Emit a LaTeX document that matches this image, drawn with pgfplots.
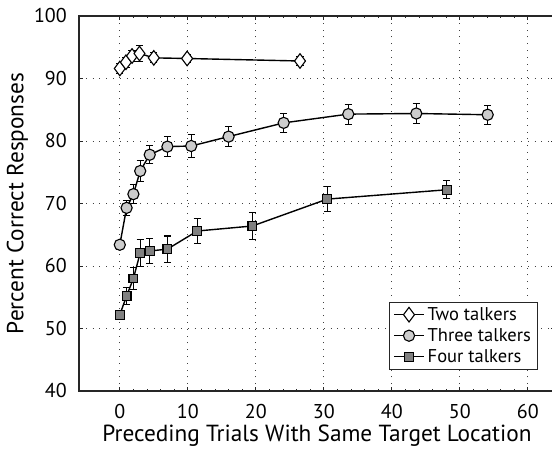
\documentclass[border=0pt]{standalone}
\usepackage{pgfplots}
\pgfplotsset{compat=1.18}
\usepackage{pgfplotstable}
\usepackage{fontspec}
\setmainfont{PT Sans}

% columns: mean preceding trials, percent correct, error half-width
\pgfplotstableread{
x     y     e
0     91.6  0.8
0.9   92.6  0.8
1.8   93.6  0.9
2.9   94.0  1.3
5.0   93.3  0.8
9.9   93.2  0.7
26.5  92.8  0.7
}\twotalkers

\pgfplotstableread{
x     y     e
0     63.4  0.7
1.0   69.3  1.2
2.0   71.5  1.5
3.0   75.2  1.7
4.4   77.8  1.45
7.0   79.1  1.6
10.5  79.2  1.8
16.0  80.7  1.6
24.1  82.9  1.55
33.6  84.3  1.6
43.6  84.4  1.65
54.1  84.2  1.55
}\threetalkers

\pgfplotstableread{
x     y     e
0     52.2  0.5
1.0   55.2  1.3
2.0   58.0  1.8
3.0   62.1  2.2
4.4   62.4  2.0
7.0   62.7  2.1
11.4  65.6  2.0
19.5  66.4  2.1
30.5  70.7  1.95
48.1  72.2  1.45
}\fourtalkers

\begin{document}
\begin{tikzpicture}
\begin{axis}[
  at={(0,0)}, anchor=south west,
  scale only axis,
  width=476pt, height=375pt,
  xmin=-6, xmax=64,
  ymin=40, ymax=100,
  xtick={0,10,...,60},
  ytick={40,50,...,100},
  minor x tick num=4,
  tick align=inside,
  major tick length=4pt,
  minor tick length=2pt,
  axis line style={black!85, line width=1.1pt},
  every tick/.style={black!85, line width=0.9pt},
  grid=major,
  major grid style={black!75, line width=0.9pt, dash pattern=on 0.9pt off 5.9pt},
  /pgf/number format/assume math mode=true,
  tick label style={font=\fontsize{20}{23}\selectfont, inner sep=0pt},
  xticklabel style={yshift=-13.5pt},
  yticklabel style={xshift=-12pt},
  xlabel={Preceding Trials With Same Target Location},
  label style={font=\fontsize{23.3}{27}\selectfont},
  xlabel style={at={(axis description cs:0.5,0)}, anchor=base, yshift=-50.5pt},
  legend style={
    at={(rel axis cs:0.965,0.238)}, anchor=north east,
    draw=black!85, line width=0.9pt, fill=white,
    font=\fontsize{18.5}{21}\selectfont,
    inner xsep=4pt, inner ysep=2pt,
    nodes={text height=13pt, text depth=2pt, inner sep=3pt},
  },
  legend cell align=left,
  legend image code/.code={%
    \draw[mark repeat=2, mark phase=2, #1]
      plot coordinates {(0pt,0pt) (15pt,0pt) (30pt,0pt)};},
  error bars/y dir=both,
  error bars/y explicit,
  error bars/error bar style={line width=1.1pt, black},
  error bars/error mark options={rotate=90, mark size=3.6pt, line width=1.1pt, black},
]

\addplot[black, line width=1.4pt, mark=diamond*, mark size=7.3pt,
  mark options={fill=white, draw=black, line width=1.1pt, solid}]
  table[x=x, y=y, y error=e] {\twotalkers};
\addlegendentry{Two talkers}

\addplot[black, line width=1.4pt, mark=*, mark size=5.6pt,
  mark options={fill=black!20, draw=black, line width=1.1pt, solid}]
  table[x=x, y=y, y error=e] {\threetalkers};
\addlegendentry{Three talkers}

\addplot[black, line width=1.4pt, mark=square*, mark size=4.4pt,
  mark options={fill=black!50, draw=black, line width=1.1pt, solid}]
  table[x=x, y=y, y error=e] {\fourtalkers};
\addlegendentry{Four talkers}

\end{axis}
% y label, centred on the axis height with its baseline 55.5pt left of the frame
\node[rotate=90, anchor=base, font=\fontsize{23.3}{27}\selectfont]
  at (-55.5pt,187.5pt) {Percent Correct Responses};
\pgfresetboundingbox
\path[use as bounding box] (-79pt,-61pt) rectangle (473pt,391pt);
\end{tikzpicture}
\end{document}
